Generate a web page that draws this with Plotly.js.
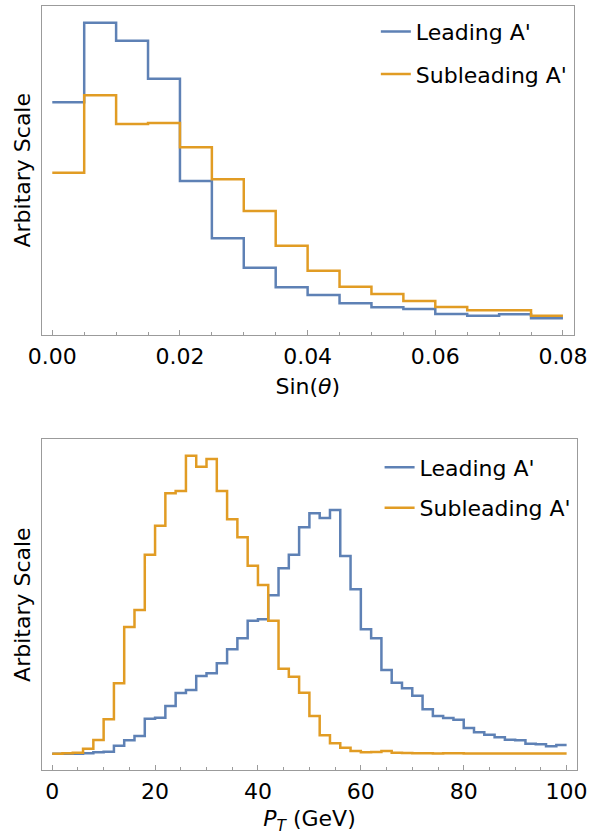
<!DOCTYPE html>
<html>
<head>
<meta charset="utf-8">
<script src="https://cdn.plot.ly/plotly-3.0.1.min.js"></script>
<style>
html,body{margin:0;padding:0;background:#fff;}
#chart{width:589px;height:835px;}
</style>
</head>
<body>
<div id="chart"></div>
<script>
// ---- Data: Sin(theta) histogram (bin edges and bin contents, arbitrary scale)
const sinEdges = [0, 0.005, 0.01, 0.015, 0.02, 0.025, 0.03, 0.035, 0.04, 0.045, 0.05, 0.055, 0.06, 0.065, 0.07, 0.075, 0.08];
const sinLeading = [232.2, 311.8, 293.8, 255.8, 153.5, 96.2, 66.8, 47.2, 39.5, 31.2, 27.2, 25.5, 20.5, 18.8, 20.2, 16.2];
const sinSubleading = [161.8, 239.2, 210.5, 211.5, 187.2, 155.2, 123.5, 88.8, 63.8, 47.8, 40.5, 33.5, 27.5, 24.2, 24.2, 18.8];

// ---- Data: P_T histogram (GeV bin edges and bin contents, arbitrary scale)
const ptEdges = [0, 2, 4, 6, 8, 10, 12, 14, 16, 18, 20, 22, 24, 26, 28, 30, 32, 34, 36, 38, 40,
  42, 44, 46, 48, 50, 52, 54, 56, 58, 60, 62, 64, 66, 68, 70, 72, 74, 76, 78, 80,
  82, 84, 86, 88, 90, 92, 94, 96, 98, 100];
const ptLeading = [16.3, 16.3, 16.3, 16.7, 17.7, 18.3, 24.3, 29.7, 34.0, 51.3,
  52.3, 64.0, 77.0, 80.0, 94.0, 96.7, 106.7, 120.7, 131.7, 149.3,
  150.7, 174.7, 201.7, 215.3, 242.7, 256.7, 252.0, 260.0, 214.0, 180.7,
  140.7, 131.7, 100.0, 87.3, 81.7, 74.3, 60.7, 54.0, 52.0, 50.3,
  42.0, 37.7, 35.3, 32.7, 30.3, 29.7, 26.3, 25.7, 23.7, 25.0];
const ptSubleading = [16.3, 16.7, 17.3, 21.3, 30.0, 50.7, 86.7, 143.0, 160.0, 215.3,
  244.3, 276.7, 279.0, 314.3, 303.3, 311.0, 279.0, 250.7, 232.7, 204.3,
  185.0, 149.3, 101.3, 93.3, 77.3, 54.0, 34.7, 26.7, 22.3, 19.0,
  17.7, 18.0, 19.0, 17.3, 17.0, 16.7, 16.7, 16.5, 16.7, 16.7,
  16.5, 16.5, 16.5, 16.5, 16.5, 16.5, 16.5, 16.5, 16.5, 16.5];

const seriesNames = ["Leading A'", "Subleading A'"];

// ---- Styles
const BLUE = '#5E81B5';
const ORANGE = '#E19C24';
const FONT = 'DejaVu Sans, sans-serif';
const FRAME = '#9b9b9b';
const FS = 22;

// step line helper: repeat last bin content so the final bin is drawn to its right edge
function stepY(vals) { return vals.concat([vals[vals.length - 1]]); }

const traces = [
  {x: sinEdges, y: stepY(sinLeading), name: seriesNames[0], xaxis: 'x', yaxis: 'y',
   mode: 'lines', line: {shape: 'hv', color: BLUE, width: 2.5}, legend: 'legend', legendgroup: 'a'},
  {x: sinEdges, y: stepY(sinSubleading), name: seriesNames[1], xaxis: 'x', yaxis: 'y',
   mode: 'lines', line: {shape: 'hv', color: ORANGE, width: 2.5}, legend: 'legend', legendgroup: 'b'},
  {x: ptEdges, y: stepY(ptLeading), name: seriesNames[0], xaxis: 'x2', yaxis: 'y2',
   mode: 'lines', line: {shape: 'hv', color: BLUE, width: 2.5}, legend: 'legend2', legendgroup: 'c'},
  {x: ptEdges, y: stepY(ptSubleading), name: seriesNames[1], xaxis: 'x2', yaxis: 'y2',
   mode: 'lines', line: {shape: 'hv', color: ORANGE, width: 2.5}, legend: 'legend2', legendgroup: 'd'}
];

const commonX = {
  showline: true, mirror: true, linecolor: FRAME, linewidth: 1,
  showgrid: false, zeroline: false,
  ticks: 'inside', ticklen: 5, tickcolor: FRAME, tickwidth: 1,
  ticklabelstandoff: 2,
  tickfont: {family: FONT, size: FS, color: '#000'}
};
const commonY = {
  showline: true, mirror: true, linecolor: FRAME, linewidth: 1,
  showgrid: false, zeroline: false, ticks: '', showticklabels: false,
  fixedrange: true
};

const layout = {
  width: 589, height: 835,
  margin: {l: 42, r: 11.7, t: 6, b: 65},
  paper_bgcolor: '#fff', plot_bgcolor: '#fff',
  font: {family: FONT, size: FS, color: '#000'},
  showlegend: true,
  xaxis: Object.assign({}, commonX, {
    domain: [0, 0.9938], anchor: 'y',
    range: [-0.00161, 0.08168], tick0: 0, dtick: 0.02, tickformat: '.2f',
    minor: {dtick: 0.005, tick0: 0, ticks: 'inside', ticklen: 3, tickcolor: FRAME, showgrid: false},
    title: {text: 'Sin(<i>θ</i>)', font: {family: FONT, size: FS, color: '#000'}, standoff: 10}
  }),
  yaxis: Object.assign({}, commonY, {
    domain: [0.570, 1], anchor: 'x', range: [0, 328.5],
    title: {text: 'Arbitary Scale', font: {family: FONT, size: FS, color: '#000'}, standoff: 4}
  }),
  xaxis2: Object.assign({}, commonX, {
    domain: [0, 1], anchor: 'y2',
    range: [-1.98, 102.02], tick0: 0, dtick: 20,
    minor: {dtick: 5, tick0: 0, ticks: 'inside', ticklen: 3, tickcolor: FRAME, showgrid: false},
    title: {text: '<i>P</i><sub><i>T</i></sub> (GeV)', font: {family: FONT, size: FS, color: '#000'}, standoff: 8}
  }),
  yaxis2: Object.assign({}, commonY, {
    domain: [0, 0.4329], anchor: 'x2', range: [0, 330.7],
    title: {text: 'Arbitary Scale', font: {family: FONT, size: FS, color: '#000'}, standoff: 4}
  }),
  legend: {
    x: 0.624, y: 0.994, xanchor: 'left', yanchor: 'top',
    bgcolor: 'rgba(0,0,0,0)', borderwidth: 0,
    font: {family: FONT, size: FS, color: '#000'},
    traceorder: 'grouped', tracegroupgap: 11
  },
  legend2: {
    x: 0.631, y: 0.4235, xanchor: 'left', yanchor: 'top',
    bgcolor: 'rgba(0,0,0,0)', borderwidth: 0,
    font: {family: FONT, size: FS, color: '#000'},
    traceorder: 'grouped', tracegroupgap: 9
  }
};

Plotly.newPlot('chart', traces, layout, {displayModeBar: false, staticPlot: true});
</script>
</body>
</html>
